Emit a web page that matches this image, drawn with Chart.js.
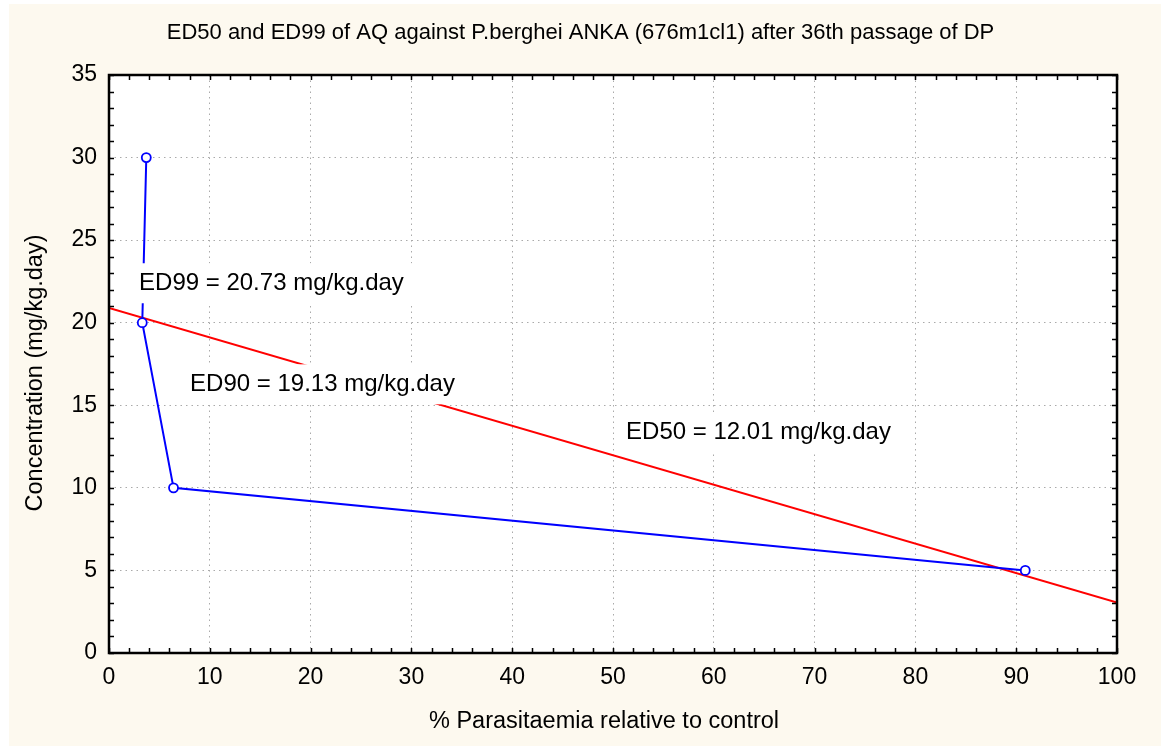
<!DOCTYPE html>
<html>
<head>
<meta charset="utf-8">
<script src="https://cdn.jsdelivr.net/npm/chart.js@4.4.0/dist/chart.umd.min.js"></script>
<style>
  html, body { margin: 0; padding: 0; background: #ffffff; }
  #wrap { width: 1161px; height: 746px; }
</style>
</head>
<body>
<div id="wrap"><canvas id="myChart" width="1161" height="746"></canvas></div>
<script>
// measured points: % parasitaemia vs dose
const parasitaemia = [3.7, 3.3, 6.4, 90.9];
const concentration = [30, 20, 10, 5];

// fitted regression line (endpoints)
const fitX = [0, 100];
const fitY = [20.9, 3.05];

const xTicks = [0, 10, 20, 30, 40, 50, 60, 70, 80, 90, 100];
const yTicks = [0, 5, 10, 15, 20, 25, 30, 35];

const chartTitle = 'ED50 and ED99 of AQ against P.berghei ANKA (676m1cl1) after 36th passage of DP';
const xTitle = '% Parasitaemia relative to control';
const yTitle = 'Concentration (mg/kg.day)';

const edLabels = ['ED99 = 20.73 mg/kg.day', 'ED90 = 19.13 mg/kg.day', 'ED50 = 12.01 mg/kg.day'];

const FONT = '"Liberation Sans", Arial, sans-serif';

// where the text boxes sit (data coords: left edge of text, vertical centre)
const labelSpots = [[2.98, 22.45], [8.04, 16.33], [51.3, 13.4]];

const decor = {
  id: 'decor',
  beforeDraw(chart) {
    const c = chart.ctx;
    c.save();
    c.fillStyle = '#ffffff';
    c.fillRect(0, 0, chart.width, chart.height);
    c.fillStyle = '#fdf9ef';
    c.fillRect(9, 4, chart.width - 9, chart.height - 4);
    const a = chart.chartArea;
    c.fillStyle = '#ffffff';
    c.fillRect(a.left, a.top, a.right - a.left, a.bottom - a.top);
    c.restore();
  },
  afterDatasetsDraw(chart) {
    const c = chart.ctx;
    const a = chart.chartArea;
    const xs = chart.scales.x, ys = chart.scales.y;
    c.save();

    // label boxes
    c.font = '24px ' + FONT;
    c.textBaseline = 'middle';
    c.textAlign = 'left';
    for (let i = 0; i < edLabels.length; i++) {
      const px = xs.getPixelForValue(labelSpots[i][0]);
      const py = ys.getPixelForValue(labelSpots[i][1]);
      const w = c.measureText(edLabels[i]).width;
      c.fillStyle = '#ffffff';
      c.fillRect(px - 12, py - 19, w + 22, 40);
      c.fillStyle = '#000000';
      c.fillText(edLabels[i], px, py + 1);
    }

    // inward minor ticks
    c.strokeStyle = '#000000';
    c.lineWidth = 1.5;
    c.beginPath();
    for (let v = 0; v <= 35; v++) {
      const y = Math.round(ys.getPixelForValue(v)) + 0.5;
      c.moveTo(a.left, y); c.lineTo(a.left + 5, y);
      c.moveTo(a.right, y); c.lineTo(a.right - 5, y);
    }
    for (let v = 0; v <= 100; v += 2) {
      const x = Math.round(xs.getPixelForValue(v)) + 0.5;
      c.moveTo(x, a.top); c.lineTo(x, a.top + 5);
      c.moveTo(x, a.bottom); c.lineTo(x, a.bottom - 5);
    }
    c.stroke();

    // frame
    c.lineWidth = 2.5;
    c.strokeRect(a.left, a.top, a.right - a.left, a.bottom - a.top);

    // titles
    c.fillStyle = '#000000';
    c.textAlign = 'center';
    c.font = '22px ' + FONT;
    c.fillText(chartTitle, chart.width / 2, 33);
    c.font = '23.5px ' + FONT;
    c.fillText(xTitle, 604, 722);
    c.translate(36, 373);
    c.rotate(-Math.PI / 2);
    c.fillText(yTitle, 0, 0);
    c.restore();
  }
};

const ctx = document.getElementById('myChart').getContext('2d');
const myChart = new Chart(ctx, {
  type: 'scatter',
  data: {
    datasets: [{
      label: 'fit',
      data: fitX.map((x, i) => ({ x: x, y: fitY[i] })),
      showLine: true,
      borderColor: '#ff0000',
      borderWidth: 2,
      pointRadius: 0,
      order: 2
    }, {
      label: 'observed',
      data: parasitaemia.map((x, i) => ({ x: x, y: concentration[i] })),
      showLine: true,
      borderColor: '#0000ff',
      borderWidth: 2,
      pointRadius: 4.5,
      pointBorderWidth: 1.8,
      pointBackgroundColor: '#ffffff',
      pointBorderColor: '#0000ff',
      order: 1
    }]
  },
  options: {
    responsive: false,
    animation: false,
    layout: { padding: { top: 75, right: 44, left: 0, bottom: 0 } },
    plugins: { legend: { display: false }, tooltip: { enabled: false }, title: { display: false } },
    scales: {
      x: {
        type: 'linear', min: 0, max: 100,
        afterBuildTicks: s => { s.ticks = xTicks.map(v => ({ value: v })); },
        afterFit: s => { s.height = 93; },
        ticks: { color: '#000', font: { family: FONT, size: 23 }, padding: 11, maxRotation: 0 },
        grid: { color: '#aaaaaa', drawTicks: false, lineWidth: 1 },
        border: { display: false, dash: [1.5, 4] }
      },
      y: {
        type: 'linear', min: 0, max: 35,
        afterBuildTicks: s => { s.ticks = yTicks.map(v => ({ value: v })); },
        afterFit: s => { s.width = 109; },
        ticks: { color: '#000', font: { family: FONT, size: 23 }, padding: 12 },
        grid: { color: '#aaaaaa', drawTicks: false, lineWidth: 1 },
        border: { display: false, dash: [1.5, 4] }
      }
    }
  },
  plugins: [decor]
});
</script>
</body>
</html>
